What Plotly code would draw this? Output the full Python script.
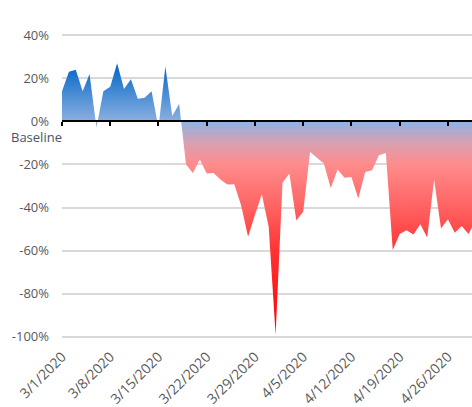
import pandas as pd
import plotly.graph_objects as go

# ---- data ----
dates = pd.date_range("2020-03-01", "2020-04-30", freq="D")
values = [14, 23, 24, 14, 22, -3, 14, 16, 27, 15, 19.5, 10.5, 11, 14, -3, 25.5, 2.5, 8,
          -20, -24, -17.7, -24.2, -24, -27, -29.3, -29.2, -39, -53.5, -43.5, -33.8, -49,
          -99, -28.5, -24.2, -46, -42, -14.2, -16.8, -19.6, -30.9, -22.4, -26.2, -25.8,
          -35.8, -23.5, -22.7, -15.7, -14.7, -59.7, -52.3, -50.5, -52.5, -47.8, -53.9,
          -27, -49.7, -45.4, -51.7, -48.6, -52.3, -46]
y_tick_vals = [-100, -80, -60, -40, -20, 0, 20, 40]
y_tick_text = ["-100%", "-80%", "-60%", "-40%", "-20%", "0%", "20%", "40%"]
baseline_label = "Baseline"

# ---- style ----
y_range = [-101, 41]
g_start, g_stop = -100, max(values)
stops = [(-100, "#FF0000"), (-60, "#FF3333"), (-40, "#FF6262"), (-20, "#FF8C8C"),
         (-10, "#D9A0B2"), (0, "#8EB4E3"), (0.001, "#8AB0E0"), (g_stop, "#0064C8")]
colorscale = [[(v - g_start) / (g_stop - g_start), c] for v, c in stops]

fig = go.Figure()
fig.add_trace(go.Scatter(
    x=dates, y=values, mode="lines", line=dict(width=0),
    fill="tozeroy",
    fillgradient=dict(type="vertical", colorscale=colorscale, start=g_start, stop=g_stop),
    hoverinfo="x+y", showlegend=False))
# carrier trace for the zero axis line with ticks
fig.add_trace(go.Scatter(x=dates, y=values, mode="lines", line=dict(width=0),
                         xaxis="x2", hoverinfo="skip", showlegend=False))

zero_pos = (0 - y_range[0]) / (y_range[1] - y_range[0])
x_end = dates[0] + pd.Timedelta(hours=59.5 * 24)
week = 7 * 86400000

fig.update_layout(
    width=472, height=407,
    margin=dict(l=62, r=0, t=33, b=68),
    paper_bgcolor="white", plot_bgcolor="white",
    font=dict(family="Open Sans", color="#595959"),
    xaxis=dict(range=[dates[0], x_end], tick0="2020-03-01", dtick=week,
               tickformat="%-m/%-d/%Y", tickangle=-45, showgrid=False, showline=False,
               ticks="", zeroline=False, tickfont=dict(size=14, color="#595959"),
               ticklabelstandoff=6),
    xaxis2=dict(overlaying="x", matches="x", anchor="free", position=zero_pos,
                side="bottom", showline=True, linecolor="black", linewidth=2,
                ticks="outside", ticklen=4, tickwidth=2, tickcolor="black",
                showticklabels=False, showgrid=False, zeroline=False,
                tick0="2020-03-01", dtick=week, layer="above traces"),
    yaxis=dict(range=y_range, tickvals=y_tick_vals, ticktext=y_tick_text,
               showgrid=True, gridcolor="#D9D9D9", gridwidth=1.5, zeroline=False,
               showline=False, ticks="", ticklabelstandoff=12,
               tickfont=dict(size=13, color="#595959")),
    annotations=[dict(text=baseline_label, xref="paper", yref="y", x=0, y=0,
                      xanchor="right", yanchor="middle", yshift=-16, xshift=2,
                      showarrow=False,
                      font=dict(size=13, color="#44546A", family="Open Sans"))],
)

fig.write_html("out.html", config={"displayModeBar": False},
               post_script="document.body.style.margin='0';document.body.style.overflow='hidden';")
